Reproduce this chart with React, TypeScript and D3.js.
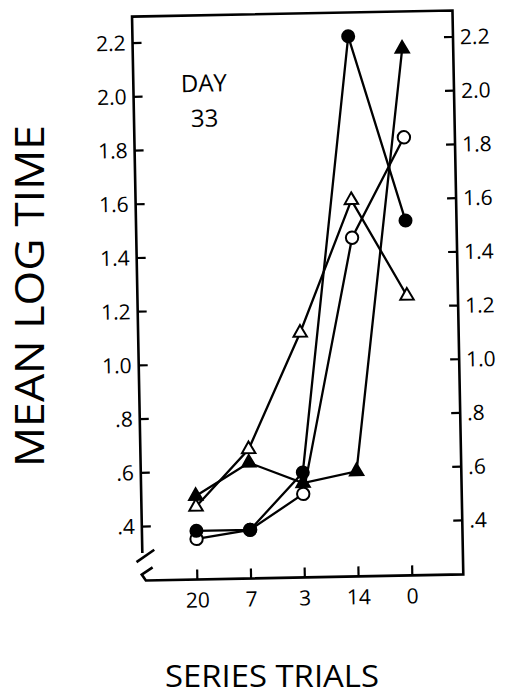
import * as d3 from 'd3'

// x categories (series trial order) and y ticks
const trials = ['20', '7', '3', '14', '0']
const yTicks = [0.4, 0.6, 0.8, 1.0, 1.2, 1.4, 1.6, 1.8, 2.0, 2.2]

// mean log time per series
const filledCircle = [0.38, 0.38, 0.59, 2.21, 1.52]
const openCircle = [0.35, 0.38, 0.51, 1.46, 1.83]
const openTriangle = [0.47, 0.68, 1.11, 1.60, 1.24]
const filledTriangle = [0.51, 0.63, 0.55, 0.59, 2.16]

const width = 506,
      height = 699
const box = { left: 137.5, right: 458, top: 13.5, bottom: 577.5 }
const font = '"Open Sans", sans-serif'

const fmt = (v: number) => {
  const s = v.toFixed(1)
  return s.startsWith('0') ? s.slice(1) : s
}

function App() {
  const x = d3.scalePoint<string>().domain(trials).range([192, 407])
  const y = d3.scaleLinear().domain([0.4, 2.2]).range([523.5, 40])

  const lineGen = d3.line<number>()
    .x((_, i) => x(trials[i]) as number)
    .y(d => y(d))

  const tri = d3.symbol().type(d3.symbolTriangle).size(78)()

  const series = [
    { data: openTriangle, kind: 'tri', fill: 'white' },
    { data: filledTriangle, kind: 'tri', fill: 'black' },
    { data: openCircle, kind: 'circle', fill: 'white' },
    { data: filledCircle, kind: 'circle', fill: 'black' },
  ]

  return (
    <svg width={width} height={height} style={{ display: 'block', position: 'absolute', left: 0, top: 0 }}>
      <rect width={width} height={height} fill='white' />
      <g transform='rotate(-1.1, 298, 300)' fontFamily={font} fill='black'>
        {/* frame with axis break */}
        <path
          d={`M${box.left},550 L${box.left},${box.top} L${box.right},${box.top} L${box.right},${box.bottom}
              L${box.left + 3},${box.bottom} L${box.left - 1},${box.bottom - 6} L${box.left + 10},${box.bottom - 13}`}
          fill='none' stroke='black' strokeWidth={2.6} />
        <path d={`M${box.left - 6},559 L${box.left + 12},547`} stroke='black' strokeWidth={2.6} />

        {/* left axis */}
        {yTicks.map(t => (
          <g key={'l' + t} transform={`translate(0, ${y(t)})`}>
            <line x1={box.left} x2={box.left + 9} stroke='black' strokeWidth={2.2} />
            <text x={box.left - 7} dy='0.35em' textAnchor='end' fontSize={21}>{fmt(t)}</text>
          </g>
        ))}
        {/* right axis */}
        {yTicks.map(t => (
          <g key={'r' + t} transform={`translate(0, ${y(t)})`}>
            <line x1={box.right - 9} x2={box.right} stroke='black' strokeWidth={2.2} />
            <text x={box.right + 7} dy='0.35em' textAnchor='start' fontSize={21}>{fmt(t)}</text>
          </g>
        ))}
        {/* bottom axis */}
        {trials.map(c => (
          <g key={'b' + c} transform={`translate(${x(c)}, 0)`}>
            <line y1={box.bottom} y2={box.bottom - 10} stroke='black' strokeWidth={2.2} />
            <text y={box.bottom + 28} textAnchor='middle' fontSize={21}>{c}</text>
          </g>
        ))}

        <text x={208} y={90} textAnchor='middle' fontSize={24}>DAY</text>
        <text x={208} y={125} textAnchor='middle' fontSize={24}>33</text>

        {/* lines */}
        {series.map((s, i) => (
          <path key={'line' + i} d={lineGen(s.data) as string} fill='none' stroke='black' strokeWidth={2.3} />
        ))}
        {/* markers */}
        {series.map((s, i) => (
          <g key={'pts' + i}>
            {s.data.map((v, j) => s.kind === 'tri'
              ? <path key={j} d={tri as string} transform={`translate(${x(trials[j])}, ${y(v)})`}
                  fill={s.fill} stroke='black' strokeWidth={2} />
              : <circle key={j} cx={x(trials[j])} cy={y(v)} r={s.fill === 'white' ? 6.2 : 6}
                  fill={s.fill} stroke='black' strokeWidth={2} />
            )}
          </g>
        ))}
      </g>

      <text transform='translate(44, 296) rotate(-90)' textAnchor='middle' fontFamily={font}
        fontSize={40} textLength={342} lengthAdjust='spacingAndGlyphs'>MEAN LOG TIME</text>
      <text x={272} y={687} textAnchor='middle' fontFamily={font}
        fontSize={31} textLength={214} lengthAdjust='spacingAndGlyphs'>SERIES TRIALS</text>
    </svg>
  )
}

export default App
